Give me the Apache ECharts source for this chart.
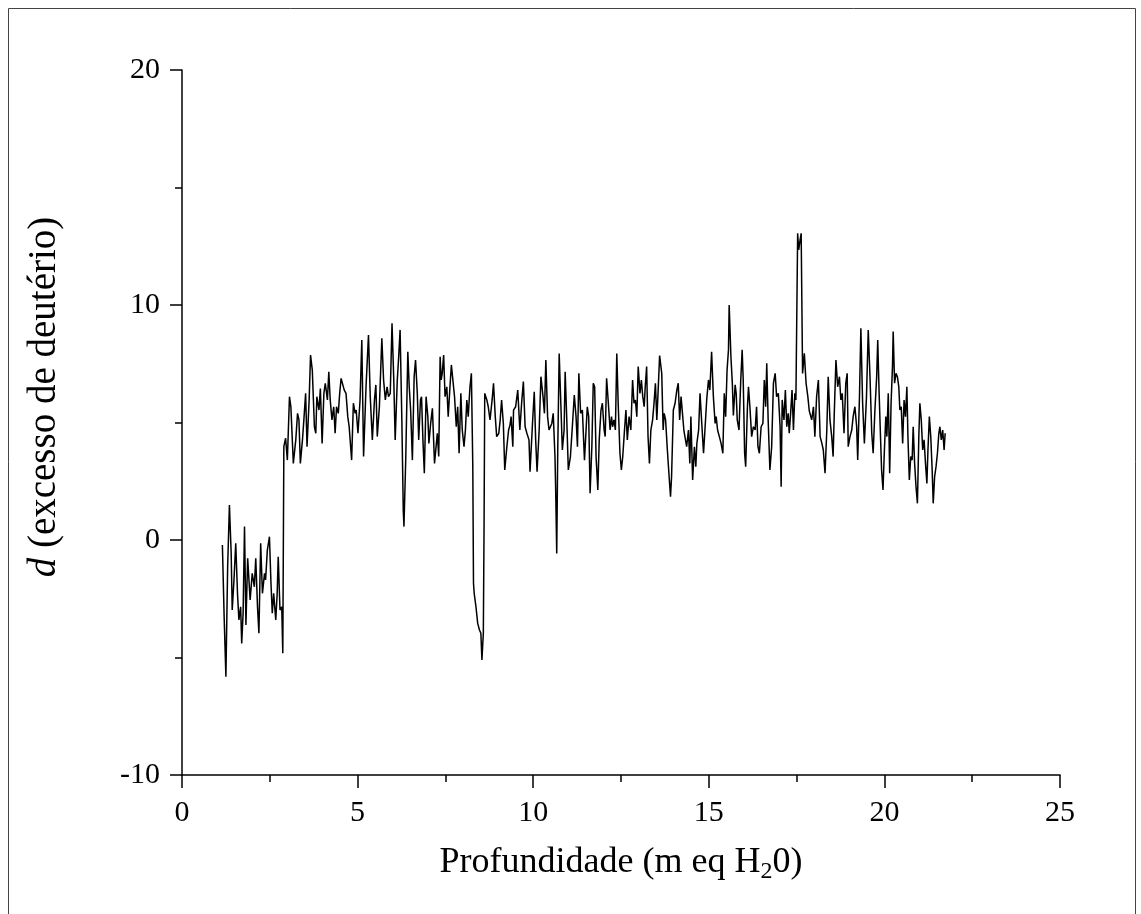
<!DOCTYPE html>
<html>
<head>
<meta charset="utf-8">
<script src="https://cdn.jsdelivr.net/npm/echarts@6/dist/echarts.min.js"></script>
<style>
  html, body { margin: 0; padding: 0; background: #fff; }
  #chart { width: 1141px; height: 914px; }
</style>
</head>
<body>
<div id="chart"></div>
<script>
// profundidade (m eq H2O)
const depth = [
  1.15, 1.20, 1.25, 1.30, 1.35, 1.40, 1.43, 1.48, 1.53, 1.58, 1.62, 1.67, 1.70, 1.74, 1.78, 1.82, 1.87, 1.94, 2.00, 2.06,
  2.10, 2.15, 2.19, 2.24, 2.29, 2.35, 2.38, 2.43, 2.49, 2.53, 2.57, 2.61, 2.67, 2.71, 2.74, 2.79, 2.84, 2.87, 2.90, 2.95,
  3.00, 3.06, 3.10, 3.17, 3.24, 3.29, 3.33, 3.37, 3.43, 3.47, 3.52, 3.56, 3.62, 3.66, 3.71, 3.77, 3.81, 3.84, 3.90, 3.94,
  3.99, 4.04, 4.08, 4.14, 4.18, 4.22, 4.27, 4.32, 4.36, 4.40, 4.45, 4.49, 4.53, 4.58, 4.62, 4.67, 4.72, 4.76, 4.83, 4.88,
  4.93, 4.96, 5.01, 5.07, 5.12, 5.17, 5.24, 5.31, 5.36, 5.42, 5.48, 5.52, 5.56, 5.62, 5.69, 5.74, 5.79, 5.84, 5.88, 5.93,
  5.98, 6.03, 6.07, 6.13, 6.17, 6.21, 6.26, 6.30, 6.32, 6.37, 6.43, 6.47, 6.51, 6.56, 6.61, 6.65, 6.70, 6.74, 6.79, 6.82,
  6.86, 6.90, 6.95, 7.00, 7.03, 7.08, 7.13, 7.19, 7.27, 7.31, 7.35, 7.38, 7.41, 7.45, 7.49, 7.54, 7.58, 7.63, 7.67, 7.72,
  7.76, 7.81, 7.85, 7.89, 7.94, 7.98, 8.03, 8.07, 8.11, 8.15, 8.20, 8.24, 8.28, 8.30, 8.32, 8.37, 8.42, 8.47, 8.51, 8.54,
  8.58, 8.60, 8.62, 8.68, 8.72, 8.77, 8.83, 8.87, 8.92, 8.96, 9.02, 9.06, 9.10, 9.15, 9.19, 9.25, 9.30, 9.34, 9.37, 9.42,
  9.44, 9.50, 9.56, 9.62, 9.67, 9.72, 9.77, 9.82, 9.88, 9.91, 9.98, 10.03, 10.07, 10.11, 10.17, 10.22, 10.28, 10.32, 10.36, 10.41,
  10.45, 10.49, 10.53, 10.57, 10.62, 10.64, 10.67, 10.70, 10.74, 10.78, 10.83, 10.88, 10.91, 10.95, 11.00, 11.06, 11.12, 11.17, 11.22, 11.26,
  11.30, 11.35, 11.40, 11.46, 11.54, 11.58, 11.62, 11.67, 11.71, 11.75, 11.79, 11.84, 11.88, 11.93, 11.97, 12.02, 12.05, 12.09, 12.14, 12.19,
  12.23, 12.26, 12.30, 12.34, 12.38, 12.42, 12.47, 12.51, 12.55, 12.60, 12.64, 12.68, 12.73, 12.78, 12.83, 12.87, 12.91, 12.95, 12.99, 13.04,
  13.08, 13.12, 13.16, 13.19, 13.23, 13.27, 13.31, 13.35, 13.40, 13.44, 13.48, 13.52, 13.55, 13.60, 13.66, 13.70, 13.73, 13.77, 13.82, 13.87,
  13.91, 13.94, 13.99, 14.04, 14.09, 14.13, 14.17, 14.21, 14.25, 14.29, 14.32, 14.37, 14.42, 14.46, 14.49, 14.54, 14.59, 14.63, 14.66, 14.71,
  14.75, 14.80, 14.85, 14.89, 14.94, 14.99, 15.03, 15.08, 15.13, 15.18, 15.21, 15.25, 15.30, 15.35, 15.40, 15.44, 15.48, 15.52, 15.56, 15.58,
  15.63, 15.67, 15.70, 15.75, 15.78, 15.81, 15.86, 15.91, 15.95, 15.98, 16.02, 16.05, 16.10, 16.13, 16.17, 16.22, 16.27, 16.32, 16.36, 16.40,
  16.44, 16.49, 16.54, 16.58, 16.62, 16.65, 16.69, 16.74, 16.79, 16.84, 16.89, 16.93, 16.98, 17.03, 17.06, 17.09, 17.14, 17.18, 17.22, 17.26,
  17.29, 17.33, 17.37, 17.41, 17.45, 17.48, 17.53, 17.56, 17.60, 17.63, 17.67, 17.72, 17.77, 17.82, 17.86, 17.93, 17.98, 18.02, 18.07, 18.12,
  18.17, 18.22, 18.26, 18.31, 18.36, 18.40, 18.45, 18.50, 18.54, 18.57, 18.62, 18.67, 18.72, 18.76, 18.80, 18.85, 18.90, 18.94, 18.97, 19.02,
  19.07, 19.11, 19.16, 19.21, 19.24, 19.29, 19.33, 19.38, 19.43, 19.49, 19.54, 19.59, 19.64, 19.68, 19.73, 19.78, 19.81, 19.85, 19.88, 19.92,
  19.96, 20.00, 20.04, 20.07, 20.11, 20.15, 20.19, 20.23, 20.25, 20.29, 20.33, 20.37, 20.41, 20.44, 20.48, 20.52, 20.56, 20.60, 20.64, 20.67,
  20.71, 20.75, 20.79, 20.82, 20.86, 20.90, 20.94, 20.98, 21.01, 21.05, 21.09, 21.13, 21.17, 21.21, 21.24, 21.28, 21.32, 21.36, 21.39, 21.43,
  21.47, 21.51, 21.55, 21.58, 21.62, 21.66, 21.70, 21.73
]

// d (excesso de deuterio)
const dExcess = [
  -0.21, -3.26, -5.82, -1.13, 1.49, -0.55, -2.98, -1.70, -0.14, -2.27, -3.40, -2.84, -4.40, -3.12, 0.57, -3.62, -0.78, -2.55, -1.42, -1.99,
  -0.78, -2.84, -3.97, -0.14, -2.27, -1.42, -1.70, -0.43, 0.14, -1.70, -3.12, -2.27, -3.40, -2.27, -0.71, -2.98, -2.84, -4.82, 3.97, 4.33,
  3.40, 6.10, 5.67, 3.26, 4.26, 5.39, 5.11, 3.26, 4.26, 5.11, 6.24, 3.97, 5.96, 7.87, 7.23, 4.82, 4.54, 6.10, 5.53, 6.45,
  4.11, 6.24, 6.67, 5.96, 7.16, 5.96, 5.11, 5.67, 4.54, 5.67, 5.39, 6.24, 6.88, 6.81, 6.38, 6.24, 5.25, 4.82, 3.40, 5.82,
  5.39, 5.53, 4.54, 5.96, 8.51, 3.55, 6.52, 8.72, 6.10, 4.26, 5.96, 6.60, 4.40, 5.67, 8.58, 6.81, 5.96, 6.52, 6.10, 6.24,
  9.22, 6.81, 4.26, 6.81, 7.80, 8.94, 5.11, 1.28, 0.57, 3.40, 8.01, 6.52, 5.53, 3.40, 6.95, 7.66, 6.24, 4.26, 5.96, 6.10,
  4.26, 2.84, 6.10, 5.25, 4.11, 4.96, 5.60, 3.26, 4.54, 3.55, 7.80, 6.81, 7.09, 7.87, 6.10, 6.52, 5.25, 6.52, 7.45, 7.38,
  6.10, 4.82, 5.67, 3.69, 6.24, 4.68, 3.97, 4.68, 5.96, 5.25, 6.52, 7.09, 3.12, -1.84, -2.27, -2.84, -3.55, -3.83, -3.97, -5.11,
  -3.97, 0.43, 6.24, 5.96, 5.67, 5.11, 5.96, 6.67, 5.25, 4.40, 4.54, 5.11, 5.96, 4.96, 2.98, 3.97, 4.68, 4.90, 5.25, 3.97,
  5.53, 5.67, 6.38, 4.68, 5.82, 6.74, 4.82, 4.54, 4.26, 2.91, 4.96, 6.31, 4.26, 2.91, 4.68, 6.95, 6.10, 5.39, 7.66, 5.25,
  4.68, 4.82, 4.96, 5.39, 3.55, 2.13, -0.57, 3.97, 7.94, 6.10, 3.83, 4.68, 7.16, 5.39, 2.98, 3.55, 4.96, 6.17, 5.25, 3.97,
  7.09, 5.39, 5.53, 3.40, 5.67, 5.25, 1.99, 3.97, 6.67, 6.52, 3.55, 2.13, 4.26, 5.53, 5.82, 4.68, 4.40, 6.88, 5.82, 4.68,
  5.25, 4.82, 5.11, 4.68, 7.94, 5.82, 3.69, 2.98, 3.55, 4.68, 5.53, 4.26, 5.25, 4.68, 6.81, 5.82, 5.96, 5.25, 7.38, 6.24,
  6.81, 6.10, 5.67, 6.52, 7.38, 4.40, 3.26, 4.68, 5.11, 5.82, 6.67, 5.11, 6.10, 7.85, 7.09, 4.68, 5.39, 5.11, 3.83, 2.70,
  1.84, 2.70, 5.53, 5.82, 6.38, 6.67, 5.11, 6.10, 5.39, 4.68, 4.40, 3.97, 4.68, 3.26, 5.25, 2.55, 3.97, 3.12, 4.11, 4.68,
  6.24, 4.96, 3.69, 4.68, 5.96, 6.81, 6.38, 8.01, 6.10, 4.96, 5.25, 4.68, 4.40, 4.11, 3.69, 6.24, 5.25, 7.23, 8.09, 10.00,
  7.80, 6.67, 5.30, 6.60, 6.24, 5.11, 4.68, 6.81, 8.09, 6.81, 3.69, 3.12, 5.67, 6.52, 5.67, 4.40, 4.82, 4.68, 5.67, 3.97,
  3.69, 4.82, 4.96, 6.81, 5.67, 7.52, 5.11, 2.98, 3.97, 6.67, 7.09, 6.10, 6.24, 4.82, 2.27, 5.96, 5.11, 6.38, 4.82, 5.39,
  4.54, 5.39, 6.38, 4.68, 6.24, 5.96, 13.05, 12.34, 12.77, 13.05, 7.09, 7.94, 6.67, 6.10, 5.50, 5.11, 5.67, 4.40, 6.10, 6.81,
  4.40, 4.11, 3.83, 2.84, 4.68, 6.95, 5.11, 4.40, 3.55, 5.25, 7.66, 6.52, 6.95, 5.96, 6.24, 4.54, 6.67, 7.09, 3.97, 4.40,
  4.68, 5.25, 5.67, 4.82, 3.40, 6.10, 9.01, 5.82, 4.11, 6.10, 8.94, 6.95, 4.54, 3.69, 5.53, 6.95, 8.51, 6.24, 4.82, 2.98,
  2.13, 3.83, 5.25, 4.40, 6.24, 2.84, 5.82, 7.38, 8.87, 6.67, 7.09, 6.95, 6.52, 5.53, 5.67, 4.11, 5.96, 5.25, 6.52, 4.40,
  2.55, 3.55, 3.40, 4.82, 3.26, 2.27, 1.56, 4.40, 5.82, 5.11, 3.83, 4.26, 3.26, 2.41, 3.83, 5.25, 4.40, 2.98, 1.56, 2.70,
  3.12, 3.69, 4.54, 4.82, 4.26, 4.68, 3.83, 4.54
]

const xTicks = { min: 0, max: 25, step: 5 }
const yTicks = { min: -10, max: 20, step: 10 }

const serif = "'Liberation Serif', 'Times New Roman', serif"

let myChart = echarts.init(document.getElementById("chart"))
let points = depth.map((x, i) => [x, dExcess[i]])

myChart.setOption({
  animation: false,
  backgroundColor: "#fff",
  grid: { left: 182, right: 81, top: 70, bottom: 139 },
  xAxis: {
    type: "value",
    min: xTicks.min,
    max: xTicks.max,
    interval: xTicks.step,
    axisLine: { onZero: false, lineStyle: { color: "#000", width: 1.5 } },
    axisTick: { length: 13, lineStyle: { color: "#000", width: 1.5 } },
    minorTick: { show: true, splitNumber: 2, length: 7, lineStyle: { color: "#000", width: 1.5 } },
    splitLine: { show: false },
    axisLabel: { margin: 23, color: "#000", fontSize: 30, fontFamily: serif },
  },
  yAxis: {
    type: "value",
    min: yTicks.min,
    max: yTicks.max,
    interval: yTicks.step,
    axisLine: { show: true, onZero: false, lineStyle: { color: "#000", width: 1.5 } },
    axisTick: { show: true, length: 12, lineStyle: { color: "#000", width: 1.5 } },
    minorTick: { show: true, splitNumber: 2, length: 7, lineStyle: { color: "#000", width: 1.5 } },
    splitLine: { show: false },
    axisLabel: { margin: 22, color: "#000", fontSize: 30, fontFamily: serif },
  },
  graphic: [
    {
      type: "rect",
      silent: true,
      shape: { x: 8.5, y: 8.5, width: 1127, height: 930 },
      style: { fill: "none", stroke: "#444", lineWidth: 1 },
    },
    {
      type: "text",
      x: 621,
      y: 863,
      style: {
        text: "{n|Profundidade (m eq H}{s|2}{n|0)}",
        align: "center",
        verticalAlign: "middle",
        fill: "#000",
        rich: {
          n: { fontSize: 36, fontFamily: serif, fill: "#000" },
          s: { fontSize: 24, fontFamily: serif, padding: [18, 0, 0, 0], fill: "#000" },
        },
      },
    },
    {
      type: "text",
      x: 45,
      y: 397,
      rotation: Math.PI / 2,
      style: {
        text: "{i|d}{n| (excesso de deutério)}",
        align: "center",
        verticalAlign: "middle",
        fill: "#000",
        rich: {
          i: { fontSize: 39, fontFamily: serif, fontStyle: "italic", fill: "#000" },
          n: { fontSize: 39, fontFamily: serif, fill: "#000" },
        },
      },
    },
  ],
  series: [
    {
      type: "line",
      data: points,
      showSymbol: false,
      lineStyle: { color: "#000", width: 1.5 },
    },
  ],
})

window.addEventListener("resize", () => {
  myChart.resize()
})
</script>
</body>
</html>
